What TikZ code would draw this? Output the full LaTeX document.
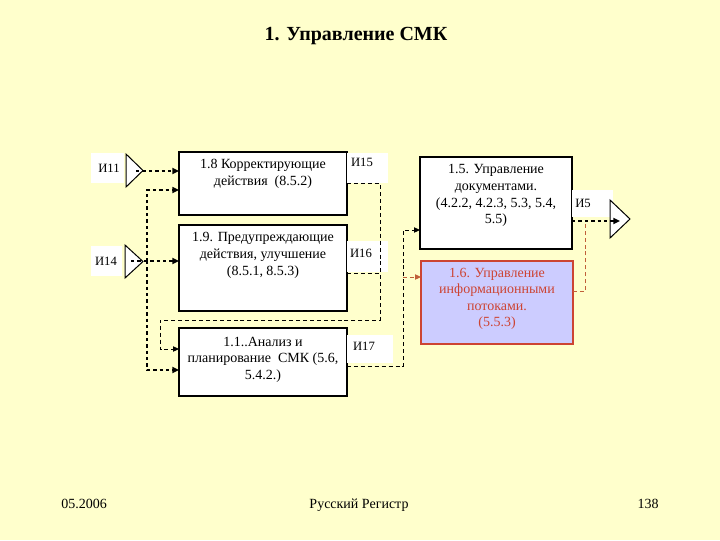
\documentclass[tikz,border=0pt]{standalone}
\usepackage{fontspec}
\setmainfont{Liberation Serif}
\newfontfamily\tnr{Liberation Serif}
\usetikzlibrary{arrows.meta,calc}
\definecolor{bgyellow}{HTML}{FFFFCC}
\definecolor{redtxt}{HTML}{CC4433}
\definecolor{redline}{HTML}{C0603A}
\definecolor{lavender}{HTML}{CCCCFF}
\tikzset{
  box/.style={draw=black, line width=1.1pt, fill=white, inner sep=0pt, outer sep=0pt},
  redbox/.style={draw=redtxt, line width=1.1pt, fill=lavender, inner sep=0pt, outer sep=0pt},
  boxtext/.style={anchor=north, align=center, inner sep=0pt, yshift=-5.3pt,
    font=\tnr\fontsize{10.5}{12.6}\selectfont},
  lbltext/.style={inner sep=0pt, font=\tnr\fontsize{9.5}{11}\selectfont},
  foottext/.style={inner sep=0pt, anchor=base, font=\tnr\fontsize{10.5}{12}\selectfont},
  thickdash/.style={line width=1.5pt, dash pattern=on 2.6pt off 2.2pt},
  thindash/.style={line width=0.75pt, dash pattern=on 3pt off 2.2pt},
  reddash/.style={line width=0.75pt, dash pattern=on 3pt off 2.2pt, draw=redline},
  arr/.style={-{Triangle[length=5pt,width=4.5pt]}},
  sarr/.style={-{Triangle[length=4.5pt,width=4pt]}},
  tri/.style={draw=black, line width=0.75pt, fill=white}
}
\begin{document}
\begin{tikzpicture}[x=0.75pt,y=-0.75pt]
\fill[bgyellow] (0,0) rectangle (720,540);
\useasboundingbox (0,0) rectangle (720,540);

% title
\node[font=\tnr\fontsize{15}{18}\selectfont\bfseries] (title) at (356,36) {1. Управление СМК};

% boxes
\node[box, minimum width=126pt, minimum height=47.25pt] (b18) at (263,183.5) {};
\node[box, minimum width=126pt, minimum height=64.5pt] (b19) at (263,268) {};
\node[box, minimum width=126pt, minimum height=51pt] (b11) at (263,362) {};
\node[box, minimum width=114pt, minimum height=69pt] (b15) at (496,203) {};
\node[redbox, minimum width=114pt, minimum height=62.25pt] (b16) at (497,302.5) {};

\node[boxtext] (t18) at (b18.north) {1.8 Корректирующие\\действия\ \ (8.5.2)};
\node[boxtext] (t19) at (b19.north) {1.9. Предупреждающие\\действия, улучшение\\(8.5.1, 8.5.3)};
\node[boxtext, yshift=-1.2pt] (t11) at (b11.north) {1.1..Анализ и\\планирование\ \ СМК (5.6,\\5.4.2.)};
\node[boxtext] (t15) at (b15.north) {1.5. Управление\\документами.\\(4.2.2, 4.2.3, 5.3, 5.4,\\5.5)};
\node[boxtext, text=redtxt, font=\tnr\fontsize{10.5}{12.2}\selectfont] (t16) at (b16.north) {1.6. Управление\\информационными\\потоками.\\(5.5.3)};

% label backgrounds
\fill[white] (91,153) rectangle (124,183);
\fill[white] (91,246) rectangle (122,276);
\fill[white] (347,153) rectangle (388,183);
\fill[white] (347,241) rectangle (388,272);
\fill[white] (347,335) rectangle (393,363);
\fill[white] (572,190) rectangle (613,217);

\node[lbltext] (l11) at (109,168) {И11};
\node[lbltext] (l14) at (106,261) {И14};
\node[lbltext] (l15) at (362,162) {И15};
\node[lbltext] (l16) at (361,253) {И16};
\node[lbltext] (l17) at (364,346) {И17};
\node[lbltext] (l5) at (583,203) {И5};

% input / output triangles
\draw[tri] (126,154) -- (143,170.5) -- (126,187) -- cycle;
\draw[tri] (125,245) -- (143,261.5) -- (125,278) -- cycle;
\draw[tri] (610,200) -- (630,219) -- (610,238) -- cycle;

\coordinate (i11) at (136,171);
\coordinate (i14) at (131,261);
\coordinate (j14) at (147,261);
\coordinate (o5) at (620,221);
\coordinate (c1) at (380,320);
\coordinate (c2) at (160,320);
\coordinate (c3) at (403,230);
\coordinate (c5) at (585,221);
\coordinate (r1) at (403,277);

% thick dashed inputs
\draw[thickdash, arr] (i11) -- (i11 -| b18.west);
\draw[thickdash, arr] (i14) -- (i14 -| b19.west);
\draw[thickdash, arr] (j14) |- ([yshift=-4.9pt]b18.west);
\draw[thickdash, arr] (j14) |- ([yshift=-6pt]b11.west);

% thin feedback loop 1.8/1.9 -> 1.1
\draw[thindash, sarr] (b18.east) -| (c1) -- (c2) |- ([yshift=9.75pt]b11.west);
\draw[thindash] ([yshift=-3.75pt]b19.east) -- ([yshift=-3.75pt]b19.east -| c1);

% 1.1 -> 1.5 and 1.6
\draw[thindash, sarr] ([yshift=-3pt]b11.east) -| (c3) -- (c3 -| b15.west);
\draw[reddash, sarr, redline] (r1) -- (r1 -| b16.west);

% outputs
\draw[thickdash, arr] ([yshift=-13.5pt]b15.east) -- (o5);
\draw[reddash] ([yshift=7.9pt]b16.east) -| (c5);

% footer
\node[foottext] (f1) at (84,508) {05.2006};
\node[foottext] (f2) at (359,508) {Русский Регистр};
\node[foottext] (f3) at (648,508) {138};
\end{tikzpicture}
\end{document}
